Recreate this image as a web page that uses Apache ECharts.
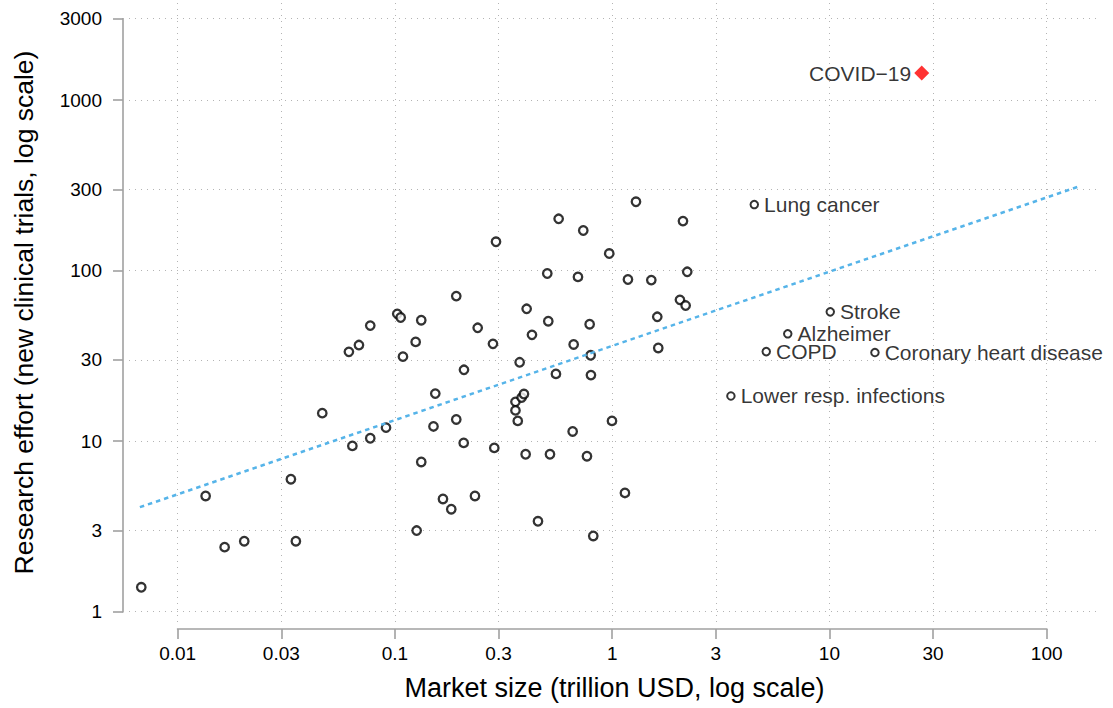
<!DOCTYPE html>
<html>
<head>
<meta charset="utf-8">
<script src="https://cdn.jsdelivr.net/npm/echarts@6/dist/echarts.min.js"></script>
<style>
  html, body { margin: 0; padding: 0; background: #fff; }
  #chart { width: 1113px; height: 708px; }
</style>
</head>
<body>
<div id="chart"></div>
<script>
// ---- Data ----
const marketSize = [0.0068, 0.01345, 0.01645, 0.02025, 0.0332, 0.0350, 0.0463, 0.0637, 0.0770, 0.0910,
  0.0614, 0.0683, 0.0770, 0.1025, 0.1063, 0.1089, 0.1246, 0.1322, 0.1259, 0.1322,
  0.1505, 0.1534, 0.1664, 0.1817, 0.1916, 0.1916, 0.2073, 0.2079, 0.2336, 0.2404,
  0.2827, 0.2867, 0.2919, 0.3588, 0.3588, 0.3677, 0.3751, 0.3831, 0.3926, 0.3997,
  0.4040, 0.4274, 0.4555, 0.5027, 0.5081, 0.5173, 0.5511, 0.5671, 0.6579, 0.6649,
  0.6959, 0.7362, 0.7656, 0.7877, 0.7962, 0.7985, 0.8185, 0.9696, 0.998, 1.145,
  1.182, 1.287, 1.514, 1.613, 1.630, 2.051, 2.118, 2.179, 2.216];
const newTrials = [1.39, 4.77, 2.39, 2.59, 5.98, 2.59, 14.6, 9.38, 10.4, 12.0,
  33.4, 36.6, 47.6, 55.8, 53.1, 31.3, 38.2, 51.2, 2.99, 7.55,
  12.2, 19.0, 4.58, 3.99, 70.9, 13.4, 9.77, 26.2, 4.77, 46.2,
  37.2, 9.13, 147.6, 17.0, 15.15, 13.15, 29.0, 18.0, 18.9, 8.38,
  59.7, 42.0, 3.39, 96.2, 50.5, 8.38, 24.8, 201.3, 11.4, 36.9,
  91.9, 171.9, 8.16, 48.5, 31.9, 24.4, 2.78, 126.0, 13.15, 4.97,
  88.7, 253.3, 88.0, 53.6, 35.2, 67.4, 195.2, 62.4, 98.4];

const labeledNames = ["Lung cancer", "Stroke", "Alzheimer", "COPD", "Coronary heart disease", "Lower resp. infections"];
const labeledX = [4.51, 10.09, 6.43, 5.12, 16.2, 3.52];
const labeledY = [244, 57.3, 42.6, 33.5, 33.1, 18.4];

const covidName = "COVID\u221219";
const covidX = 26.6;
const covidY = 1441;

const trendX = [0.0067, 143.9];
const trendY = [4.10, 314.5];

const xTickValues = [0.01, 0.03, 0.1, 0.3, 1, 3, 10, 30, 100];
const yTickValues = [1, 3, 10, 30, 100, 300, 1000, 3000];

const xTitle = "Market size (trillion USD, log scale)";
const yTitle = "Research effort (new clinical trials, log scale)";

// ---- Layout / style ----
const X_MIN = 0.00597, X_MAX = 176, Y_MIN = 0.87, Y_MAX = 3710;
const X_OFF = 7, Y_OFF = 6;
const FONT = "'Liberation Sans', Arial, Helvetica, sans-serif";
const AXIS_COLOR = '#a0a0a0';
const GRID_COLOR = '#b4b4b4';
const TEXT_COLOR = '#000';

const chart = echarts.init(document.getElementById('chart'), null, { renderer: 'svg' });

const mainPoints = marketSize.map((x, i) => [x, newTrials[i]]);
const labeledPoints = labeledNames.map((n, i) => ({ name: n, value: [labeledX[i], labeledY[i]] }));
const trendPoints = trendX.map((x, i) => [x, trendY[i]]);

function fmt(v) { return String(+v.toPrecision(6)); }

const option = {
  backgroundColor: '#fff',
  animation: false,
  grid: { left: 129, right: 13, top: 3, bottom: 86, containLabel: false },
  xAxis: {
    type: 'log', logBase: 10, min: X_MIN, max: X_MAX,
    offset: X_OFF,
    name: xTitle, nameLocation: 'middle', nameGap: 45,
    nameTextStyle: { fontFamily: FONT, fontSize: 27, color: TEXT_COLOR },
    axisLine: { show: false },
    axisTick: { show: true, length: 10, customValues: xTickValues, lineStyle: { color: AXIS_COLOR, width: 1.6 } },
    axisLabel: { customValues: xTickValues, margin: 15, fontFamily: FONT, fontSize: 19, color: TEXT_COLOR, formatter: fmt },
    splitLine: { show: true, lineStyle: { color: GRID_COLOR, width: 1, type: [1, 5] } },
    minorTick: { show: false }, minorSplitLine: { show: false }
  },
  yAxis: {
    type: 'log', logBase: 10, min: Y_MIN, max: Y_MAX,
    offset: Y_OFF,
    name: yTitle, nameLocation: 'middle', nameGap: 86,
    nameTextStyle: { fontFamily: FONT, fontSize: 26.5, color: TEXT_COLOR },
    axisLine: { show: false },
    axisTick: { show: true, length: 10, customValues: yTickValues, lineStyle: { color: AXIS_COLOR, width: 1.6 } },
    axisLabel: { customValues: yTickValues, margin: 21, fontFamily: FONT, fontSize: 19, color: TEXT_COLOR, formatter: fmt },
    splitLine: { show: true, lineStyle: { color: GRID_COLOR, width: 1, type: [1, 5] } },
    minorTick: { show: false }, minorSplitLine: { show: false }
  },
  series: [
    {
      // axis lines spanning first to last tick
      type: 'custom', silent: true, clip: false, z: 1,
      data: [[1, 1]],
      renderItem: function (params, api) {
        const p0 = api.coord([xTickValues[0], Y_MIN]);
        const p1 = api.coord([xTickValues[xTickValues.length - 1], Y_MIN]);
        const q0 = api.coord([X_MIN, yTickValues[0]]);
        const q1 = api.coord([X_MIN, yTickValues[yTickValues.length - 1]]);
        const st = { stroke: AXIS_COLOR, lineWidth: 1.6 };
        return {
          type: 'group',
          children: [
            { type: 'line', shape: { x1: p0[0] - 0.8, y1: p0[1] + X_OFF, x2: p1[0] + 0.8, y2: p1[1] + X_OFF }, style: st },
            { type: 'line', shape: { x1: q0[0] - Y_OFF, y1: q0[1] + 0.8, x2: q1[0] - Y_OFF, y2: q1[1] - 0.8 }, style: st }
          ]
        };
      }
    },
    {
      type: 'scatter', name: 'conditions', data: mainPoints,
      symbol: 'circle', symbolSize: 8.5,
      itemStyle: { color: '#fff', borderColor: '#000', borderWidth: 2.3 },
      z: 3
    },
    {
      type: 'scatter', name: 'labeled', data: labeledPoints,
      symbol: 'circle', symbolSize: 7.5,
      itemStyle: { color: '#fff', borderColor: '#000', borderWidth: 2 },
      label: { show: true, position: 'right', distance: 5, formatter: '{b}', fontFamily: FONT, fontSize: 21, lineHeight: 17, color: TEXT_COLOR },
      z: 3
    },
    {
      type: 'scatter', name: 'covid', data: [{ name: covidName, value: [covidX, covidY] }],
      symbol: 'diamond', symbolSize: [15, 15],
      itemStyle: { color: '#ff0000' },
      label: { show: true, position: 'left', distance: 3, formatter: '{b}', fontFamily: FONT, fontSize: 21, lineHeight: 17, color: TEXT_COLOR },
      z: 3
    },
    {
      type: 'line', name: 'trend', data: trendPoints,
      showSymbol: false, symbol: 'none',
      lineStyle: { color: '#56B4E9', width: 2.5, type: [4.5, 4] },
      z: 4
    }
  ]
};
chart.setOption(option);
</script>
</body>
</html>
